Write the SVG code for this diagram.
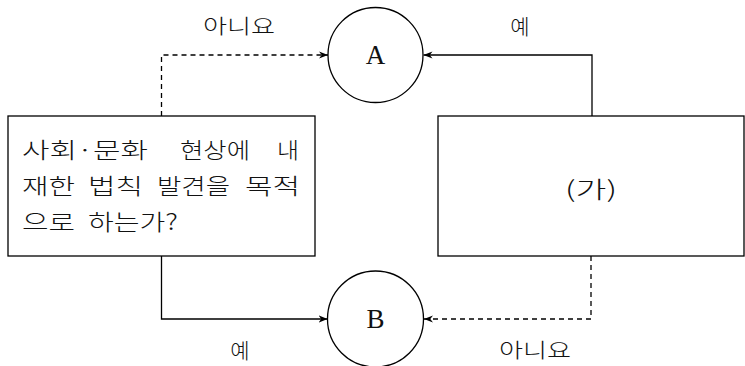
<svg xmlns="http://www.w3.org/2000/svg" width="745" height="366" viewBox="0 0 745 366">
<style>
.ln{fill:none;stroke:#000;stroke-width:1.3}
.ds{stroke-dasharray:5 4}
.nd{fill:#fff;stroke:#000;stroke-width:1.3}
.kr{font-family:"Noto Sans CJK KR","Noto Sans",sans-serif;font-weight:300;fill:#111}
.q{font-size:22px}
.sf{font-family:"Liberation Serif",serif;fill:#111}
</style>
<defs>
<marker id="ah" viewBox="0 0 10 10" refX="10" refY="5" markerWidth="9" markerHeight="9" markerUnits="userSpaceOnUse" orient="auto">
<path d="M0,1 L10,5 L0,9 L3,5 Z" fill="#000"/>
</marker>
</defs>
<rect width="745" height="366" fill="#fff"/>
<g id="connectors">
<path class="ln ds" d="M161.5,116 V55 H328" marker-end="url(#ah)"/>
<path class="ln" d="M592,116 V55 H423.5" marker-end="url(#ah)"/>
<path class="ln" d="M161.5,256 V319 H327.5" marker-end="url(#ah)"/>
<path class="ln ds" d="M591,256 V319 H424" marker-end="url(#ah)"/>
</g>
<g id="labels">
<text class="kr" x="203" y="34" font-size="20" textLength="72" lengthAdjust="spacingAndGlyphs">아니요</text>
<text class="kr" x="520" y="34" font-size="21" text-anchor="middle">예</text>
<text class="kr" x="240" y="358" font-size="21" text-anchor="middle">예</text>
<text class="kr" x="499" y="358" font-size="20" textLength="72" lengthAdjust="spacingAndGlyphs">아니요</text>
</g>
<g id="nodeA">
<circle class="nd" cx="375.5" cy="55" r="47.5"/>
<text class="sf" x="375.5" y="64" font-size="27" text-anchor="middle">A</text>
</g>
<g id="nodeB">
<circle class="nd" cx="375.5" cy="319" r="48"/>
<text class="sf" x="375.5" y="328" font-size="27" text-anchor="middle">B</text>
</g>
<g id="nodeQ">
<rect class="nd" x="8" y="116" width="307" height="140"/>
<text class="kr q" x="22" y="158" textLength="126" lengthAdjust="spacingAndGlyphs">사회·문화</text>
<text class="kr q" x="180" y="158" textLength="70" lengthAdjust="spacingAndGlyphs">현상에</text>
<text class="kr q" x="277" y="158" textLength="22" lengthAdjust="spacingAndGlyphs">내</text>
<text class="kr q" x="22" y="194" textLength="53" lengthAdjust="spacingAndGlyphs">재한</text>
<text class="kr q" x="88" y="194" textLength="55" lengthAdjust="spacingAndGlyphs">법칙</text>
<text class="kr q" x="157" y="194" textLength="73" lengthAdjust="spacingAndGlyphs">발견을</text>
<text class="kr q" x="245" y="194" textLength="55" lengthAdjust="spacingAndGlyphs">목적</text>
<text class="kr q" x="22" y="230" textLength="53" lengthAdjust="spacingAndGlyphs">으로</text>
<text class="kr q" x="88" y="230" textLength="90" lengthAdjust="spacingAndGlyphs">하는가?</text>
</g>
<g id="nodeGa">
<rect class="nd" x="438" y="116" width="306" height="140"/>
<text class="kr" x="565" y="198" font-size="23" textLength="52" lengthAdjust="spacingAndGlyphs">(가)</text>
</g>
</svg>
